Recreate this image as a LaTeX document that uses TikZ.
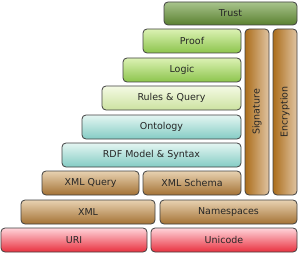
\documentclass[tikz,border=0pt]{standalone}
\usepackage{fontspec}
\setmainfont{DejaVu Sans}
\definecolor{trtop}{HTML}{A8C48C}
\definecolor{trbot}{HTML}{5A8030}
\definecolor{lgtop}{HTML}{DCF2B4}
\definecolor{lgbot}{HTML}{8CC44C}
\definecolor{pgtop}{HTML}{F4FAE4}
\definecolor{pgbot}{HTML}{CCE2A0}
\definecolor{cytop}{HTML}{E4F6F2}
\definecolor{cybot}{HTML}{84CCC4}
\definecolor{brtop}{HTML}{E8D2B2}
\definecolor{brbot}{HTML}{A47234}
\definecolor{rdtop}{HTML}{FFD4DA}
\definecolor{rdbot}{HTML}{E8303E}
\definecolor{vbtop}{HTML}{E0C4A2}
\definecolor{vbbot}{HTML}{AC6E1C}
\begin{document}
\begin{tikzpicture}[x=1pt,y=1pt,
  layer/.style={draw=black!75, line width=0.8pt, rounded corners=4pt, inner sep=0pt,
    minimum height=24pt, text=black!85, font=\fontsize{9.5}{11}\selectfont},
  trustc/.style={layer, top color=trtop, bottom color=trbot, minimum height=23pt},
  greenc/.style={layer, top color=lgtop, bottom color=lgbot},
  palec/.style={layer, top color=pgtop, bottom color=pgbot},
  cyanc/.style={layer, top color=cytop, bottom color=cybot},
  brownc/.style={layer, top color=brtop, bottom color=brbot},
  redc/.style={layer, top color=rdtop, bottom color=rdbot},
  vbar/.style={layer, rotate=90, minimum height=24pt, minimum width=166pt, left color=vbbot, right color=vbtop}
]
\useasboundingbox (0,0) rectangle (300,-254);
\node[trustc, minimum width=133pt] (trust) at (230.5,-13.5) {Trust};
\node[greenc, minimum width=98pt] (proof) at (192,-41) {Proof};
\node[greenc, minimum width=118pt] (logic) at (182,-70) {Logic};
\node[palec, minimum width=139pt] (rules) at (171.5,-98) {Rules \& Query};
\node[cyanc, minimum width=159pt] (onto) at (161.5,-127) {Ontology};
\node[cyanc, minimum width=179pt] (rdf) at (151.5,-155) {RDF Model \& Syntax};
\node[brownc, minimum width=97pt] (xq) at (90.5,-183) {XML Query};
\node[brownc, minimum width=98pt] (xs) at (192,-183) {XML Schema};
\node[brownc, minimum width=134pt] (xml) at (88,-212) {XML};
\node[brownc, minimum width=137pt] (ns) at (228.5,-212) {Namespaces};
\node[redc, minimum width=146pt] (uri) at (74,-240) {URI};
\node[redc, minimum width=146pt] (uni) at (224,-240) {Unicode};
\node[vbar] (sig) at (257,-112) {Signature};
\node[vbar] (enc) at (285,-112) {Encryption};
\end{tikzpicture}
\end{document}
